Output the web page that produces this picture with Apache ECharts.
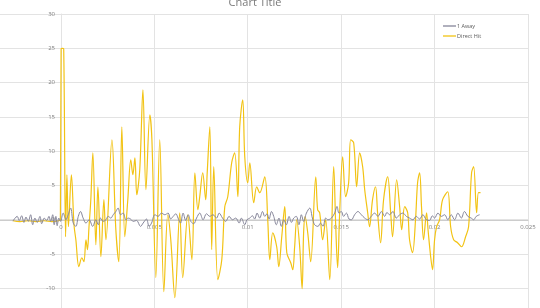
<!DOCTYPE html>
<html>
<head>
<meta charset="utf-8">
<script src="https://cdn.jsdelivr.net/npm/echarts@6/dist/echarts.min.js"></script>
<style>
html,body{margin:0;padding:0;background:#fff;width:540px;height:308px;overflow:hidden;position:relative;}
#c{position:absolute;left:-40px;top:0;width:580px;height:330px;}
</style>
</head>
<body>
<div id="c"></div>
<script>
const chartTitle = 'Chart Title';
const seriesNames = ['1 Away', 'Direct Hit'];
const xTicks = { min: -0.005, max: 0.025, interval: 0.005 };
const yTicks = { min: -15, max: 30, interval: 5 };

const awayX = [-0.00257,-0.00234,-0.00223,-0.00210,-0.00198,-0.00187,-0.00175,-0.00162,-0.00151,-0.00139,-0.00127,-0.00112,-0.00103,-0.00089,-0.00076,-0.00064,-0.00055,-0.00044,-0.00036,-0.00027,-0.00020,-0.00011,-0.00002,
0.00012,0.00027,0.00039,0.00052,0.00066,0.00080,0.00093,0.00105,0.00119,0.00134,0.00151,0.00170,0.00187,0.00200,0.00212,0.00226,0.00241,0.00253,0.00267,0.00280,0.00294,0.00306,0.00319,0.00333,0.00348,0.00360,0.00373,0.00387,0.00405,0.00426,0.00440,0.00458,0.00472,0.00485,
0.00503,0.00520,0.00538,0.00556,0.00574,0.00587,0.00601,0.00615,0.00627,0.00640,0.00654,0.00668,0.00681,0.00695,0.00711,0.00726,0.00743,0.00761,0.00779,0.00797,0.00814,0.00833,0.00847,0.00865,0.00882,0.00900,0.00918,0.00936,0.00954,0.00966,0.00984,0.00996,
0.01011,0.01025,0.01037,0.01050,0.01064,0.01079,0.01091,0.01103,0.01114,0.01127,0.01139,0.01153,0.01167,0.01180,0.01193,0.01207,0.01221,0.01234,0.01246,0.01260,0.01274,0.01287,0.01299,0.01314,0.01332,0.01346,0.01358,0.01376,0.01389,0.01403,0.01417,0.01429,0.01448,0.01465,0.01478,0.01488,
0.01501,0.01513,0.01528,0.01542,0.01555,0.01572,0.01590,0.01608,0.01626,0.01643,0.01661,0.01679,0.01697,0.01715,0.01733,0.01745,0.01759,0.01777,0.01795,0.01813,0.01830,0.01849,0.01866,0.01884,0.01902,0.01920,0.01937,0.01956,0.01973,0.01988,
0.02000,0.02018,0.02036,0.02054,0.02071,0.02089,0.02107,0.02125,0.02143,0.02160,0.02178,0.02196,0.02209,0.02223,0.02241];
const awayY = [-0.2,0.49,-0.1,0.58,-0.39,0.39,-0.24,0.73,-0.73,0.24,-0.39,0.49,-0.58,0.24,-0.1,0.49,-0.24,0.73,-0.73,0.49,-0.87,0.24,-0.24,
0.97,0,0.73,1.7,-0.49,-0.97,0.49,1.2,0.24,-0.49,0,-0.97,0,-0.73,0.24,-0.24,0,0.49,0.24,0.73,1.2,1.7,0.73,0.97,0,0.24,0.1,-0.24,-0.1,-0.97,-0.49,0.1,-0.97,-0.49,
0.73,0.49,0.97,0.73,0.97,0.1,0.49,0.87,0.24,-0.49,0.97,-0.1,0.73,-0.24,-0.58,0.24,0.97,0,0.87,0.49,0.73,0.24,0.97,0.24,-0.24,0.49,0,0.24,-0.49,0.24,-0.73,0,
0.24,0.58,0.1,0.97,0.24,1.2,0.49,0.87,0.1,1.2,0.49,-0.73,0.24,-0.97,0,-0.73,0.49,-0.39,0.24,0.49,-0.73,0.73,-0.24,0.97,1.7,0.24,-0.73,-0.97,-0.49,-0.97,0.24,0,0.24,0.97,1.94,0.97,
1.2,0.49,0.97,0.1,0,0.73,1.2,0.73,0.24,0,0.49,0.97,0.49,1.2,0.49,1.07,0.73,1.2,0.24,0.73,0.97,0.49,0.24,0,0.49,0.1,0.73,0,-0.1,0.58,
0.24,0.97,0.49,0.73,0,0.73,0,0.97,0.24,1.2,0.49,0.24,0,0.49,0.73];

const hitX = [-0.00257,-0.00219,-0.00176,-0.00134,-0.00091,-0.00048,-0.00011,-0.00003,0.00001,0.00008,0.00015,0.00025,0.00032,0.00040,0.00056,0.00070,0.00080,0.00096,0.00112,0.00123,0.00134,0.00142,0.00150,0.00160,0.00171,0.00187,0.00198,0.00214,0.00230,0.00241,0.00273,0.00294,0.00310,0.00326,0.00342,0.00358,0.00374,0.00385,0.00396,0.00406,0.00422,0.00439,0.00455,0.00476,0.00487,
0.00508,0.00529,0.00551,0.00572,0.00588,0.00610,0.00636,0.00652,0.00679,0.00701,0.00717,0.00733,0.00743,0.00759,0.00775,0.00783,0.00797,0.00807,0.00818,0.00840,0.00861,0.00877,0.00893,0.00914,0.00930,0.00947,0.00957,0.00973,0.00984,0.01000,
0.01011,0.01032,0.01048,0.01064,0.01091,0.01107,0.01118,0.01134,0.01155,0.01166,0.01182,0.01198,0.01209,0.01230,0.01241,0.01251,0.01262,0.01278,0.01291,0.01299,0.01307,0.01321,0.01337,0.01364,0.01374,0.01385,0.01401,0.01417,0.01439,
0.01460,0.01471,0.01481,0.01492,0.01508,0.01524,0.01540,0.01551,0.01567,0.01583,0.01599,0.01615,0.01626,0.01642,0.01652,0.01668,0.01684,0.01695,0.01711,0.01727,0.01749,0.01765,0.01775,0.01797,0.01813,0.01824,0.01840,0.01856,
0.01866,0.01882,0.01898,0.01909,0.01920,0.01930,0.01941,0.01957,0.01965,0.01979,0.01989,0.02000,0.02011,0.02027,0.02043,0.02070,0.02086,0.02102,0.02123,0.02144,0.02166,0.02182,0.02198,0.02209,0.02225,0.02235,0.02246];
const hitY = [-0.15,-0.29,-0.15,-0.29,-0.15,-0.29,-0.15,0,24.9,25,24.9,-2.48,6.56,-1.02,6.56,-0.73,-2.92,-6.85,-5.54,-6.12,-2.92,-4.37,-1.17,2.92,9.77,-3.64,4.81,-5.39,2.92,-2.92,11.66,-1.46,-6.12,13.56,-2.48,2.92,8.75,6.56,9.04,3.64,7.29,18.95,4.37,15.31,11.66,
-8.45,11.66,-10.5,0.73,-2.92,-11.37,1.02,-8.45,0.73,-5.83,6.85,1.46,3.35,6.85,2.92,6.85,13.56,-4.37,7.73,-8.75,-5.83,1.9,3.35,8.31,9.77,3.35,13.56,17.49,9.18,5.39,
8.31,2.48,4.81,3.94,6.27,0,-5.83,-1.9,-3.94,-6.85,-2.48,1.9,-4.81,-6.27,-7.29,-3.94,0,-3.94,-10.06,-1.9,0.44,-1.9,-6.12,6.27,1.46,1.02,-2.92,0,-8.75,
7.73,-1.02,-7.0,1.02,9.18,3.35,5.39,11.66,11.22,4.81,9.77,7.73,4.37,1.02,-1.02,2.92,4.81,1.02,-3.35,2.92,6.27,1.02,-2.48,5.83,1.9,-1.46,1.9,1.02,
-2.92,-4.81,0,5.39,6.85,1.9,-2.92,1.02,-1.46,-5.39,-7.29,-2.92,-1.02,0,2.92,4.08,-1.02,-2.92,-3.35,-3.94,-2.48,-1.02,6.85,7.73,1.02,3.94,3.94];

const zip = (xs, ys) => xs.map((x, i) => [x, ys[i]]);
const chart = echarts.init(document.getElementById('c'), null, { renderer: 'canvas' });
const axisText = { color: '#7f7f7f', fontSize: 6, fontFamily: 'Open Sans' };
const G = { left: 7.5, right: 12, top: 14, bottom: 7.4 };
chart.setOption({
  animation: false,
  backgroundColor: '#ffffff',
  title: { text: chartTitle, left: 290, textAlign: 'center', top: -8,
    textStyle: { color: '#7a7a7a', fontSize: 11, fontWeight: 'normal', fontFamily: 'Open Sans' } },
  legend: { data: seriesNames, orient: 'vertical', left: 478, top: 18, itemWidth: 13, itemHeight: 6, itemGap: 4,
    icon: 'path://M0,0L10,0L10,1L0,1Z',
    textStyle: { color: '#595959', fontSize: 5.5, fontFamily: 'Open Sans', padding: [0,0,0,-4] } },
  grid: Object.assign({ containLabel: false, outerBoundsMode: 'none' }, G),
  xAxis: { type: 'value', min: xTicks.min, max: xTicks.max, interval: xTicks.interval,
    position: 'bottom', offset: -102.6,
    axisLine: { onZero: false, lineStyle: { color: '#cccccc', width: 1 } },
    axisTick: { show: false },
    axisLabel: Object.assign({ margin: 4, formatter: v => String(+v.toFixed(3)) }, axisText),
    splitLine: { show: true, lineStyle: { color: '#e3e3e3', width: 1 } } },
  yAxis: { type: 'value', min: yTicks.min, max: yTicks.max, interval: yTicks.interval,
    position: 'left', offset: -93.5,
    axisLine: { show: true, onZero: false, lineStyle: { color: '#e3e3e3', width: 1 } },
    axisTick: { show: false },
    axisLabel: Object.assign({ margin: 6 }, axisText),
    splitLine: { show: true, lineStyle: { color: '#e3e3e3', width: 1 } } },
  series: [
    { name: seriesNames[1], type: 'line', data: zip(hitX, hitY), showSymbol: false, smooth: 0.35, z: 2,
      lineStyle: { color: '#f2c314', width: 1.2 }, itemStyle: { color: '#f2c314' } },
    { name: seriesNames[0], type: 'line', data: zip(awayX, awayY), showSymbol: false, smooth: 0.35, z: 3,
      lineStyle: { color: '#86869a', width: 1 }, itemStyle: { color: '#86869a' } }
  ]
});
</script>
</body>
</html>
